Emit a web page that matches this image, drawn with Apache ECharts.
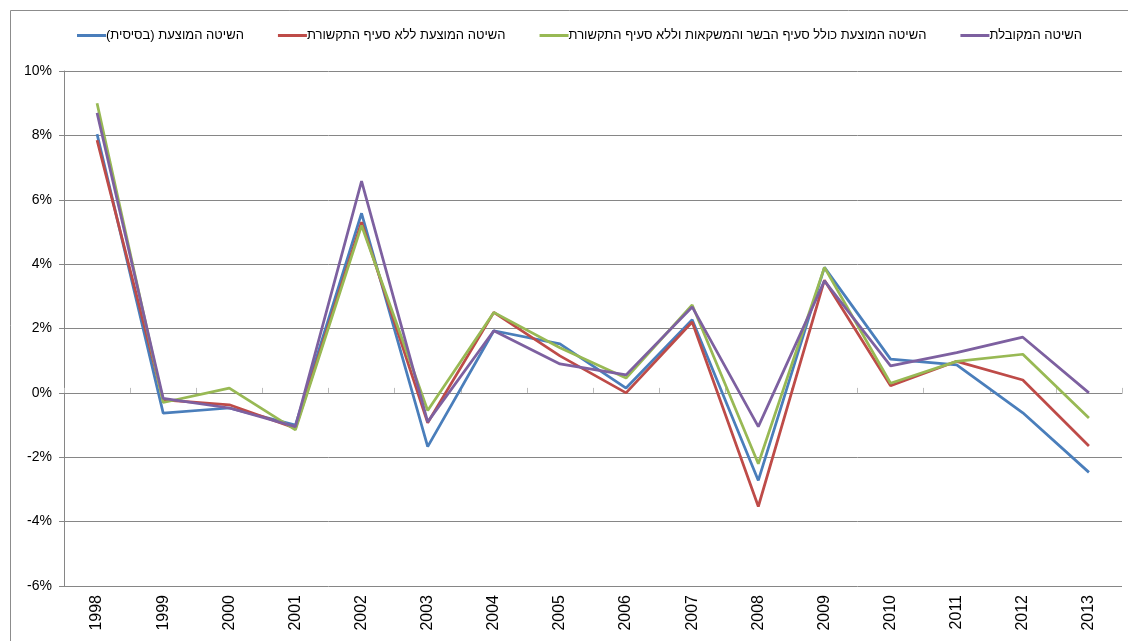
<!DOCTYPE html>
<html lang="he">
<head>
<meta charset="UTF-8">
<title>chart</title>
<style>
    html, body { margin: 0; padding: 0; background: #fff; }
    #main { width: 1128px; height: 641px; }
</style>
</head>
<body>
<div id="main"></div>
<script src="https://cdn.jsdelivr.net/npm/echarts@6/dist/echarts.min.js"></script>
<script type="text/javascript">
// years on the x axis
var years = ['1998', '1999', '2000', '2001', '2002', '2003', '2004', '2005',
    '2006', '2007', '2008', '2009', '2010', '2011', '2012', '2013'];

// series names (RLM at end keeps the parentheses in RTL order)
var nameBase = 'השיטה המוצעת (בסיסית)\u200F';
var nameNoComm = 'השיטה המוצעת ללא סעיף התקשורת';
var nameMeat = 'השיטה המוצעת כולל סעיף הבשר והמשקאות וללא סעיף התקשורת';
var nameAccepted = 'השיטה המקובלת';

// values in percent
var baseVals = [8.04, -0.63, -0.47, -1.0, 5.58, -1.67, 1.93, 1.52, 0.15, 2.27, -2.72, 3.9, 1.05, 0.87, -0.62, -2.47];
var noCommVals = [7.85, -0.22, -0.37, -1.1, 5.3, -0.93, 2.5, 1.15, 0.0, 2.2, -3.53, 3.5, 0.22, 0.98, 0.4, -1.65];
var meatVals = [9.0, -0.3, 0.15, -1.15, 5.2, -0.55, 2.5, 1.4, 0.46, 2.73, -2.2, 3.9, 0.3, 0.98, 1.2, -0.78];
var acceptedVals = [8.7, -0.17, -0.47, -1.05, 6.58, -0.9, 1.93, 0.9, 0.56, 2.67, -1.05, 3.48, 0.84, 1.25, 1.73, 0.0];

var colors = ['#4a7ebb', '#be4b48', '#98b954', '#7d60a0'];
var gridColor = '#868686';
var font = '"Liberation Sans", "DejaVu Sans", Arial, sans-serif';

var myChart = echarts.init(document.getElementById('main'));

function line(name, vals, color) {
    return {
        name: name,
        type: 'line',
        xAxisIndex: 0,
        data: vals,
        showSymbol: false,
        symbol: 'none',
        animation: false,
        lineStyle: { color: color, width: 2.75 },
        itemStyle: { color: color }
    };
}

var option = {
    backgroundColor: '#fff',
    textStyle: { fontFamily: font },
    graphic: [{
        type: 'polyline',
        shape: { points: [[10.5, 641], [10.5, 10.5], [1128, 10.5]] },
        style: { stroke: '#8c8c8c', lineWidth: 1, fill: null },
        silent: true
    }],
    legend: {
        left: 72,
        top: 24,
        width: 1050,
        itemWidth: 29,
        itemHeight: 3,
        itemGap: 34,
        icon: 'rect',
        textStyle: { fontFamily: font, fontSize: 13, color: '#000', padding: [0, 0, 0, -5] },
        data: [nameBase, nameNoComm, nameMeat, nameAccepted]
    },
    grid: {
        left: 64,
        right: 6,
        top: 71,
        bottom: 55,
        containLabel: false
    },
    xAxis: [{
        type: 'category',
        data: years,
        position: 'bottom',
        boundaryGap: true,
        axisLine: { show: false, onZero: false },
        axisTick: { show: false },
        axisLabel: {
            rotate: 90,
            margin: 9,
            interval: 0,
            fontFamily: font,
            fontSize: 16,
            color: '#000'
        },
        splitLine: { show: false }
    }, {
        type: 'category',
        data: years,
        boundaryGap: true,
        axisLine: { show: true, onZero: true, onZeroAxisIndex: 0, lineStyle: { color: gridColor, width: 1 } },
        axisTick: { show: true, length: 5, inside: false, interval: 0, lineStyle: { color: '#bdbdbd' } },
        axisLabel: { show: false },
        splitLine: { show: false }
    }],
    yAxis: {
        type: 'value',
        min: -6,
        max: 10,
        interval: 2,
        axisLine: { show: true, lineStyle: { color: gridColor, width: 1 } },
        axisTick: { show: true, length: 5, lineStyle: { color: gridColor } },
        axisLabel: {
            margin: 12,
            fontFamily: font,
            fontSize: 14,
            color: '#000',
            formatter: function (v) { return v + '%'; }
        },
        splitLine: { show: true, lineStyle: { color: gridColor, width: 1 } }
    },
    series: [
        line(nameBase, baseVals, colors[0]),
        line(nameNoComm, noCommVals, colors[1]),
        line(nameMeat, meatVals, colors[2]),
        line(nameAccepted, acceptedVals, colors[3])
    ]
};

myChart.setOption(option);
</script>
</body>
</html>
